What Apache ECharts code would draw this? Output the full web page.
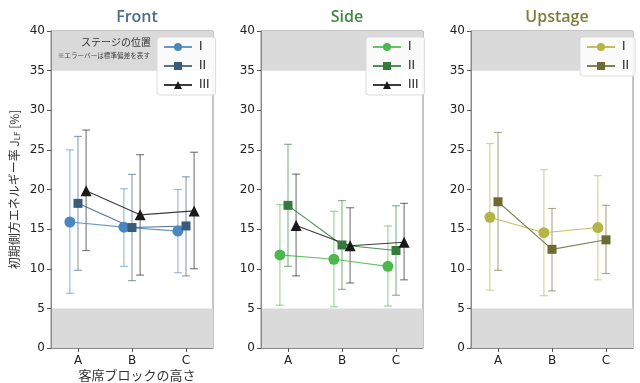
<!DOCTYPE html>
<html><head><meta charset="utf-8">
<script src="https://cdn.jsdelivr.net/npm/echarts@6/dist/echarts.min.js"></script>
<style>html,body{margin:0;padding:0;background:#fff}#c{width:640px;height:383px}</style>
</head><body><div id="c"></div>
<script>
const categories = ['A', 'B', 'C'];
const panelTitles = ['Front', 'Side', 'Upstage'];
const groupNames = ['I', 'II', 'III'];
const yTicks = [0, 5, 10, 15, 20, 25, 30, 35, 40];

const frontI_mean = [15.9, 15.25, 14.75];
const frontI_lo   = [6.9, 10.3, 9.5];
const frontI_hi   = [25.0, 20.1, 20.0];
const frontII_mean = [18.25, 15.2, 15.4];
const frontII_lo   = [9.8, 8.5, 9.1];
const frontII_hi   = [26.7, 21.9, 21.6];
const frontIII_mean = [19.85, 16.8, 17.3];
const frontIII_lo   = [12.3, 9.2, 10.0];
const frontIII_hi   = [27.5, 24.4, 24.7];

const sideI_mean = [11.75, 11.2, 10.3];
const sideI_lo   = [5.4, 5.2, 5.3];
const sideI_hi   = [18.1, 17.25, 15.4];
const sideII_mean = [18.0, 13.0, 12.3];
const sideII_lo   = [10.3, 7.4, 6.65];
const sideII_hi   = [25.7, 18.6, 17.95];
const sideIII_mean = [15.45, 12.9, 13.35];
const sideIII_lo   = [9.1, 8.2, 8.6];
const sideIII_hi   = [21.95, 17.7, 18.25];

const upI_mean = [16.5, 14.55, 15.2];
const upI_lo   = [7.3, 6.6, 8.6];
const upI_hi   = [25.8, 22.5, 21.75];
const upII_mean = [18.45, 12.45, 13.65];
const upII_lo   = [9.8, 7.2, 9.4];
const upII_hi   = [27.2, 17.6, 18.0];

const bandLow = [0, 5];
const bandHigh = [35, 40];

const panels = [
  {groups: [[frontI_mean, frontI_lo, frontI_hi], [frontII_mean, frontII_lo, frontII_hi], [frontIII_mean, frontIII_lo, frontIII_hi]],
   colors: ['#4a86c1', '#3a5b7a', '#1a1a1a'], titleColor: '#4d6d8e'},
  {groups: [[sideI_mean, sideI_lo, sideI_hi], [sideII_mean, sideII_lo, sideII_hi], [sideIII_mean, sideIII_lo, sideIII_hi]],
   colors: ['#4cb84c', '#357a3a', '#1a1a1a'], titleColor: '#3f8a42'},
  {groups: [[upI_mean, upI_lo, upI_hi], [upII_mean, upII_lo, upII_hi]],
   colors: ['#b5b545', '#6b6b33'], titleColor: '#7d7d3c'}
];
const offsets = [-0.15, 0, 0.15];
const symbols = ['circle', 'rect', 'triangle'];
const symbolSizes = [11, 9, 11];

const gridLefts = [51, 261, 471];
const gridW = 162, gridTop = 31, gridH = 317;

const chart = echarts.init(document.getElementById('c'));
const grids = [], xAxes = [], yAxes = [], series = [], legends = [], titles = [];

panels.forEach((p, pi) => {
  grids.push({left: gridLefts[pi], top: gridTop, width: gridW, height: gridH, show: true,
    borderColor: '#8a8a8a', borderWidth: 1, backgroundColor: 'transparent'});
  xAxes.push({type: 'value', gridIndex: pi, min: -0.5, max: 2.5,
    axisLine: {show: true, onZero: false, lineStyle: {color: '#8a8a8a'}},
    axisTick: {show: true, customValues: [0, 1, 2], length: 4, lineStyle: {color: '#555'}},
    axisLabel: {customValues: [0, 1, 2], formatter: v => categories[Math.round(v)], color: '#222',
      fontSize: 12, fontFamily: 'DejaVu Sans', margin: 7},
    splitLine: {show: false}});
  yAxes.push({type: 'value', gridIndex: pi, min: 0, max: 40, interval: 5,
    axisLine: {show: true, onZero: false, lineStyle: {color: '#8a8a8a'}},
    axisTick: {show: true, length: 4, lineStyle: {color: '#555'}},
    axisLabel: {color: '#222', fontSize: 12, fontFamily: 'DejaVu Sans', margin: 6},
    splitLine: {show: false},
    name: pi === 0 ? '{a|初期側方エネルギー率 J}{s|LF}{a| [%]}' : '',
    nameLocation: 'middle', nameGap: 30, nameRotate: 90,
    nameTextStyle: {rich: {a: {fontSize: 12, fontFamily: 'Noto Sans CJK JP', color: '#333'},
      s: {fontSize: 8, fontFamily: 'Noto Sans CJK JP', color: '#333', verticalAlign: 'bottom', padding: [6, 0, 0, 0]}}}});
  titles.push({text: panelTitles[pi], left: gridLefts[pi] + gridW / 2, top: 4, textAlign: 'center',
    textStyle: {color: p.titleColor, fontSize: 16, fontWeight: 600, fontFamily: 'Open Sans'}});

  series.push({type: 'custom', xAxisIndex: pi, yAxisIndex: pi, silent: true, z: 0,
    data: [[bandLow[0], bandLow[1]], [bandHigh[0], bandHigh[1]]],
    renderItem: (params, api) => {
      const p1 = api.coord([-0.5, api.value(1)]);
      const p2 = api.coord([2.5, api.value(0)]);
      return {type: 'rect', shape: {x: p1[0], y: p1[1], width: p2[0] - p1[0], height: p2[1] - p1[1]},
        style: {fill: '#dadada'}};
    }});

  const legendNames = [];
  p.groups.forEach((g, gi) => {
    const [mean, lo, hi] = g;
    const col = p.colors[gi];
    const off = offsets[gi];
    const name = panelTitles[pi] + ' ' + groupNames[gi];
    legendNames.push(name);
    series.push({type: 'custom', xAxisIndex: pi, yAxisIndex: pi, silent: true, z: 2,
      data: mean.map((m, i) => [i + off, lo[i], hi[i]]),
      renderItem: (params, api) => {
        const x = api.value(0);
        const a = api.coord([x, api.value(1)]);
        const b = api.coord([x, api.value(2)]);
        const w = 4;
        const st = {stroke: col, lineWidth: 1.2, opacity: 0.55};
        return {type: 'group', children: [
          {type: 'line', shape: {x1: a[0], y1: a[1], x2: b[0], y2: b[1]}, style: st},
          {type: 'line', shape: {x1: a[0] - w, y1: a[1], x2: a[0] + w, y2: a[1]}, style: st},
          {type: 'line', shape: {x1: b[0] - w, y1: b[1], x2: b[0] + w, y2: b[1]}, style: st}
        ]};
      }});
    series.push({type: 'line', name: name, xAxisIndex: pi, yAxisIndex: pi, z: 3,
      data: mean.map((m, i) => [i + off, m]),
      symbol: symbols[gi], symbolSize: symbolSizes[gi], showSymbol: true,
      lineStyle: {color: col, width: 1.1, opacity: 0.85},
      itemStyle: {color: col, borderWidth: 0},
      animation: false});
  });
  const legendLeft = [157, 366, 580][pi];
  legends.push({data: legendNames, left: legendLeft, top: 37, orient: 'vertical',
    itemWidth: 28, itemHeight: 10, itemGap: 7,
    padding: [4, 6, 4, 6], backgroundColor: 'rgba(255,255,255,0.85)', borderColor: '#dcdcdc',
    borderWidth: 1, borderRadius: 3,
    formatter: n => n.split(' ')[1],
    textStyle: {fontSize: 12, fontFamily: 'DejaVu Sans', color: '#222', padding: [0, 0, 0, 2]},
    selectedMode: false});
});

chart.setOption({
  animation: false,
  title: titles.concat([
    {text: '客席ブロックの高さ', left: 132, top: 364, textAlign: 'center',
      textStyle: {fontSize: 13, fontWeight: 'normal', fontFamily: 'Noto Sans CJK JP', color: '#333'}}
  ]),
  graphic: [
    {type: 'text', x: 151, y: 37, z: 100, style: {text: 'ステージの位置', fontSize: 10, align: 'right',
      fontFamily: 'Noto Sans CJK JP', fill: '#333'}},
    {type: 'text', x: 150, y: 52, z: 100, style: {text: '※エラーバーは標準偏差を表す', fontSize: 6.6, align: 'right',
      fontFamily: 'Noto Sans CJK JP', fill: '#444'}}
  ],
  grid: grids, xAxis: xAxes, yAxis: yAxes, legend: legends, series: series
});
</script></body></html>
